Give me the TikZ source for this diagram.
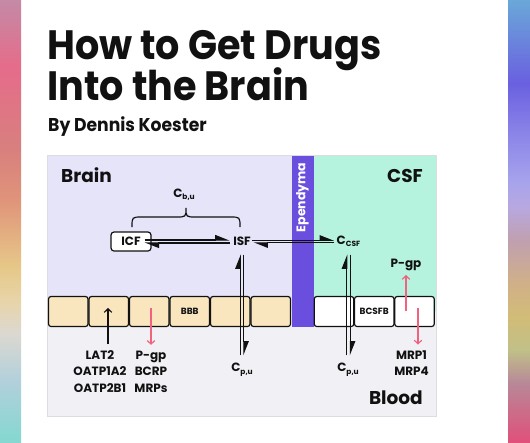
\documentclass[tikz,border=0pt]{standalone}
\usepackage{fontspec}
\setmainfont{Poppins}
\newfontfamily\titlefont{Poppins}[FakeStretch=0.93]
\usetikzlibrary{arrows.meta,calc}
\definecolor{brainbg}{HTML}{E6E4F9}
\definecolor{csfbg}{HTML}{B5F3DF}
\definecolor{ependc}{HTML}{6A4FDE}
\definecolor{bloodbg}{HTML}{F1F1F5}
\definecolor{cellc}{HTML}{F9E6BF}
\definecolor{pinkc}{HTML}{F0627D}
\definecolor{framec}{HTML}{DCDCE2}
\definecolor{inkc}{HTML}{111111}
% left strip colours (top to bottom)
\definecolor{la}{HTML}{C48AA6}
\definecolor{lb}{HTML}{E56C8A}
\definecolor{lc}{HTML}{D8807E}
\definecolor{ld}{HTML}{E0947A}
\definecolor{le}{HTML}{E6C888}
\definecolor{lf}{HTML}{E8D4A8}
\definecolor{lg}{HTML}{DCD8D0}
\definecolor{lh}{HTML}{B0D0DC}
\definecolor{li}{HTML}{84D8D0}
% right strip colours (top to bottom)
\definecolor{ra}{HTML}{6AA8D8}
\definecolor{rb}{HTML}{6A60E0}
\definecolor{rc}{HTML}{8A84E8}
\definecolor{rd}{HTML}{A8A4EC}
\definecolor{re}{HTML}{B8A8E0}
\definecolor{rf}{HTML}{C0A0B0}
\definecolor{rg}{HTML}{D0B088}
\definecolor{rh}{HTML}{D2BC78}
\definecolor{ri}{HTML}{C0C088}
\definecolor{rj}{HTML}{B88898}
\definecolor{rk}{HTML}{E0507A}
\pgfdeclareverticalshading{leftstrip}{100bp}{color(0bp)=(li); color(25bp)=(li);
  color(31.67bp)=(lh); color(37.33bp)=(lg); color(41.06bp)=(lf); color(44.8bp)=(le);
  color(52.38bp)=(ld); color(58.03bp)=(lc); color(67.42bp)=(lb); color(75bp)=(la); color(100bp)=(la)}
\pgfdeclareverticalshading{rightstrip}{100bp}{color(0bp)=(rk); color(25bp)=(rk);
  color(31.67bp)=(rj); color(35.41bp)=(ri); color(39.14bp)=(rh); color(42.99bp)=(rg);
  color(47.85bp)=(rf); color(51.58bp)=(re); color(54.3bp)=(rd); color(59.95bp)=(rc);
  color(65.61bp)=(rb); color(75bp)=(ra); color(100bp)=(ra)}
\newcommand\sbx[1]{\raisebox{-2.8pt}{\fontsize{7.5}{8}\selectfont #1}}
\begin{document}
\begin{tikzpicture}[x=1pt,y=-1pt,
  lab/.style={font=\bfseries\fontsize{12}{14}\selectfont, inner sep=1.5pt, text=inkc},
  smalllab/.style={font=\bfseries\fontsize{9}{10}\selectfont},
  region/.style={font=\bfseries\fontsize{18.5}{20}\selectfont, inner sep=0pt, text=inkc},
  titlelab/.style={anchor=base west, inner sep=0pt, text=inkc},
  cellbox/.style={draw=inkc, line width=1.2pt, rounded corners=2.5pt, minimum width=39.5pt, minimum height=30pt, inner sep=0pt, text=inkc},
  harp/.style={line width=1.1pt, draw=inkc, -{Triangle[harpoon, length=13pt, width=10pt]}},
  pinkarr/.style={draw=pinkc, line width=1.2pt, -{Straight Barb[length=3.5pt, width=7.5pt]}},
  blkarr/.style={draw=inkc, line width=1.2pt, -{Straight Barb[length=3.5pt, width=7.5pt]}}]
\useasboundingbox (0,0) rectangle (530,442);
\fill[white] (0,0) rectangle (530,442);
\begin{scope}[y=1pt]
  \shade[shading=leftstrip] (0,-442) rectangle (21,0);
  \shade[shading=rightstrip] (508,-442) rectangle (530,0);
\end{scope}
% title
\node[titlelab, font=\titlefont\bfseries\fontsize{41}{41}\selectfont] (title1) at (47,59) {How to Get Drugs};
\node[titlelab, font=\titlefont\bfseries\fontsize{41}{41}\selectfont] (title2) at (47,100) {Into the Brain};
\node[titlelab, font=\titlefont\bfseries\fontsize{18.5}{20}\selectfont] (author) at (48,131) {By Dennis Koester};
% panel
\fill[bloodbg] (48,156) rectangle (435.5,415.5);
\fill[brainbg] (48,156) rectangle (292,311);
\fill[csfbg] (313.5,156) rectangle (435.5,311);
\fill[ependc] (292,156) rectangle (313.5,327);
\draw[framec, line width=1.5pt] (47.25,155.25) rectangle (436.25,416.25);
% cells
\node[cellbox, fill=cellc] (bbb1) at (68.25,311.5) {};
\node[cellbox, fill=cellc] (bbb2) at (108.75,311.5) {};
\node[cellbox, fill=cellc] (bbb3) at (149.25,311.5) {};
\node[cellbox, fill=cellc, smalllab] (bbb4) at (189.75,311.5) {BBB};
\node[cellbox, fill=cellc] (bbb5) at (230.25,311.5) {};
\node[cellbox, fill=cellc] (bbb6) at (270.75,311.5) {};
\node[cellbox, fill=white] (csf1) at (334,311.5) {};
\node[cellbox, fill=white, smalllab] (csf2) at (374.25,311.5) {BCSFB};
\node[cellbox, fill=white] (csf3) at (414.5,311.5) {};
% region labels
\node[region, anchor=base west] (brain) at (61,182) {Brain};
\node[region, anchor=base east] (csf) at (423,182) {CSF};
\node[region, anchor=base east] (blood) at (423,404) {Blood};
\node[rotate=90, text=white, inner sep=0pt, font=\bfseries\fontsize{12.5}{13}\selectfont] (epend) at (302.5,197.5) {Ependyma};
% compartments
\node[lab, anchor=base] (cbu) at (184,197) {C\sbx{b,u}};
\draw[inkc, line width=1.2pt] (132,227) .. controls (132,217) .. (142,217) -- (176,217)
  .. controls (186,217) .. (186,208) .. controls (186,217) .. (196,217) -- (230,217)
  .. controls (240,217) .. (240,227);
\node[lab, draw=inkc, fill=white, rounded corners=3pt, line width=1.2pt, minimum width=40pt, minimum height=19pt, inner sep=0pt] (ICF) at (131,241.5) {ICF};
\node[lab] (ISF) at (242,241.5) {ISF};
\node[lab, anchor=base] (CCSF) at (348.5,244) {C\sbx{CSF}};
\node[lab, anchor=base] (cpu1) at (242,371.7) {C\sbx{p,u}};
\node[lab, anchor=base] (cpu2) at (348,371.7) {C\sbx{p,u}};
% exchange arrows
\draw[harp] ($(ICF.east)+(-7,-1.5)$) -- ($(ISF.west |- ICF.east)+(-2,-1.5)$);
\draw[harp] ($(ISF.west |- ICF.east)+(-2,1.5)$) -- ($(ICF.east)+(-7,1.5)$);
\draw[harp] ($(ISF.east)+(0,-1.3)$) -- ($(CCSF.west |- ISF.east)+(-1,-1.3)$);
\draw[harp] ($(CCSF.west |- ISF.east)+(-1,1.3)$) -- ($(ISF.east)+(1,1.3)$);
\draw[harp] ($(ISF.south |- cpu1.north)+(-1.8,-6)$) -- ($(ISF.south)+(-1.8,7)$);
\draw[harp] ($(ISF.south)+(1.8,7)$) -- ($(ISF.south |- cpu1.north)+(1.8,-6)$);
\draw[harp] ($(CCSF.south |- cpu2.north)+(-1.8,-6)$) -- ($(CCSF.south)+(-1.8,6)$);
\draw[harp] ($(CCSF.south)+(1.8,6)$) -- ($(CCSF.south |- cpu2.north)+(1.8,-6)$);
% transporter labels
\node[lab, anchor=base] (lat2) at (100,359) {LAT2};
\node[lab, anchor=base] (oatpa) at (100,375.5) {OATP1A2};
\node[lab, anchor=base] (oatpb) at (100,392) {OATP2B1};
\node[lab, anchor=base] (pgpb) at (151,359) {P-gp};
\node[lab, anchor=base] (bcrp) at (151,375.5) {BCRP};
\node[lab, anchor=base] (mrps) at (151,392) {MRPs};
\node[lab, anchor=base] (mrp1) at (411.5,359) {MRP1};
\node[lab, anchor=base] (mrp4) at (411.5,375.5) {MRP4};
\node[lab, anchor=base] (pgpc) at (406,267) {P-gp};
\coordinate (lattip) at (108,308);
\coordinate (pgptop) at (151,308);
\coordinate (mrptop) at (418,308);
\coordinate (pgpcbot) at (406,311);
\draw[blkarr] ($(lat2.north -| lattip)+(0,-4)$) -- (lattip);
\draw[pinkarr] (pgptop) -- ($(pgpb.north -| pgptop)+(0,-4)$);
\draw[pinkarr] (mrptop) -- ($(mrp1.north -| mrptop)+(0,-4)$);
\draw[pinkarr] (pgpcbot) -- ($(pgpc.south)+(0,3)$);
\end{tikzpicture}
\end{document}
